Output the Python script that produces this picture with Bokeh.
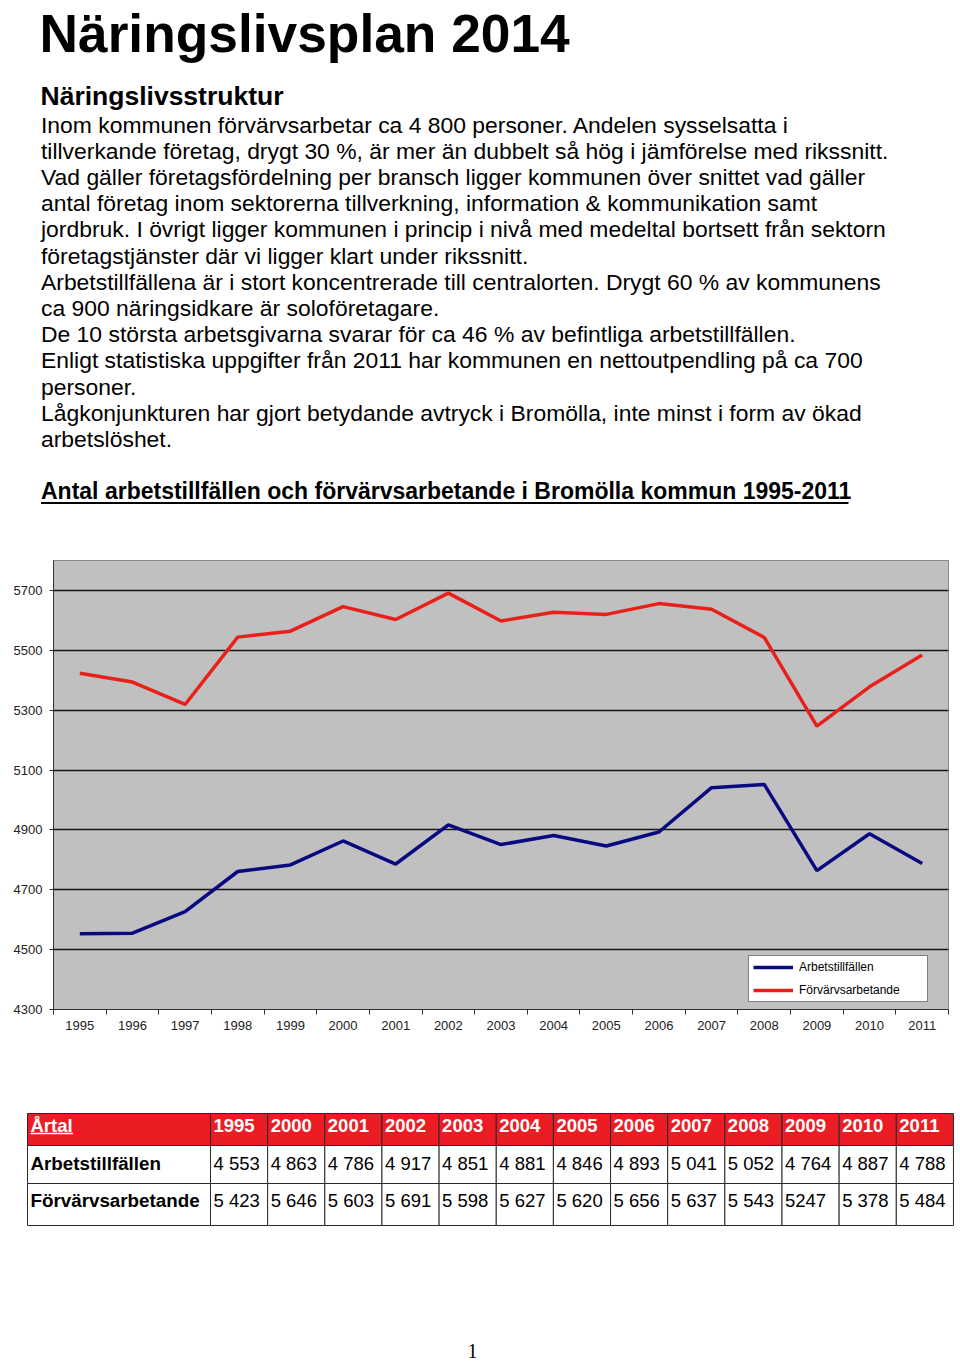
from bokeh.plotting import figure
from bokeh.layouts import column
from bokeh.models import Range1d, FixedTicker, Legend, LegendItem
from bokeh.core.properties import value
from bokeh.embed import file_html
from bokeh.resources import INLINE

# ---------------- data ----------------
years = list(range(1995, 2012))
arbetstillfallen = [4553, 4555, 4627, 4761, 4783, 4863, 4786, 4917, 4851,
                    4881, 4846, 4893, 5041, 5052, 4764, 4887, 4788]
forvarvsarbetande = [5423, 5394, 5319, 5544, 5564, 5646, 5603, 5691, 5598,
                     5627, 5620, 5656, 5637, 5543, 5247, 5378, 5484]
y_ticks = [4300, 4500, 4700, 4900, 5100, 5300, 5500, 5700]

table_header = "Årtal"
table_years = ["1995", "2000", "2001", "2002", "2003", "2004", "2005",
               "2006", "2007", "2008", "2009", "2010", "2011"]
table_row_labels = ["Arbetstillfällen", "Förvärvsarbetande"]
table_arb = ["4 553", "4 863", "4 786", "4 917", "4 851", "4 881", "4 846",
             "4 893", "5 041", "5 052", "4 764", "4 887", "4 788"]
table_forv = ["5 423", "5 646", "5 603", "5 691", "5 598", "5 627", "5 620",
              "5 656", "5 637", "5 543", "5247", "5 378", "5 484"]

page_title = "Näringslivsplan 2014"
heading = "Näringslivsstruktur"
body_lines = [
    "Inom kommunen förvärvsarbetar ca 4 800 personer. Andelen sysselsatta i",
    "tillverkande företag, drygt 30 %, är mer än dubbelt så hög i jämförelse med rikssnitt.",
    "Vad gäller företagsfördelning per bransch ligger kommunen över snittet vad gäller",
    "antal företag inom sektorerna tillverkning, information & kommunikation samt",
    "jordbruk. I övrigt ligger kommunen i princip i nivå med medeltal bortsett från sektorn",
    "företagstjänster där vi ligger klart under rikssnitt.",
    "Arbetstillfällena är i stort koncentrerade till centralorten. Drygt 60 % av kommunens",
    "ca 900 näringsidkare är soloföretagare.",
    "De 10 största arbetsgivarna svarar för ca 46 % av befintliga arbetstillfällen.",
    "Enligt statistiska uppgifter från 2011 har kommunen en nettoutpendling på ca 700",
    "personer.",
    "Lågkonjunkturen har gjort betydande avtryck i Bromölla, inte minst i form av ökad",
    "arbetslöshet.",
]
chart_title = "Antal arbetstillfällen och förvärvsarbetande i Bromölla kommun 1995-2011"
series_names = ["Arbetstillfällen", "Förvärvsarbetande"]
page_number = "1"

# ---------------- styling ----------------
W = 958
FONT = value("Liberation Sans")
BLUE = "#0A0A80"
RED = "#E8201C"
TABLE_RED = "#EC1C24"


def blank(h):
    f = figure(width=W, height=h, x_range=Range1d(0, W), y_range=Range1d(h, 0),
               output_backend="svg", toolbar_location=None, min_border=0,
               x_axis_location=None, y_axis_location=None, frame_align=False)
    f.xgrid.visible = False
    f.ygrid.visible = False
    f.outline_line_color = None
    f.background_fill_color = "white"
    f.border_fill_color = "white"
    return f


# ---------------- top text block ----------------
HA = 540
top = blank(HA)
top.text(x=[39], y=[33], text=[page_title], text_font=FONT, text_font_style="bold",
         text_font_size=value("53.3px"), text_baseline="alphabetic", text_color="black")
top.text(x=[40], y=[95], text=[heading], text_font=FONT, text_font_style="bold",
         text_font_size=value("26.5px"), text_baseline="alphabetic", text_color="black")
line_step = 26.2
top.text(x=[40.5] * len(body_lines), y=[124 + line_step * i for i in range(len(body_lines))],
         text=body_lines, text_font=FONT, text_font_size=value("22.9px"),
         text_baseline="alphabetic", text_color="black")
top.text(x=[40.5], y=[490.5], text=[chart_title], text_font=FONT, text_font_style="bold",
         text_font_size=value("23px"), text_baseline="alphabetic", text_color="black")
top.segment(x0=[40.5], y0=[502.5], x1=[848], y1=[502.5], line_color="black", line_width=2)

# ---------------- chart ----------------
HB = 510
p = figure(width=W, height=HB, x_range=Range1d(years[0] - 0.5, years[-1] + 0.5),
           y_range=Range1d(4300, 5800), output_backend="svg", toolbar_location=None,
           min_border_left=53, min_border_right=W - 948, min_border_top=20, min_border_bottom=41,
           frame_align=False)
p.background_fill_color = "#C0C0C0"
p.border_fill_color = "white"
p.outline_line_color = "#8A8A8A"
p.outline_line_width = 1

r1 = p.line(years, arbetstillfallen, line_color=BLUE, line_width=3.5)
r2 = p.line(years, forvarvsarbetande, line_color=RED, line_width=3.5)

p.xaxis.ticker = FixedTicker(ticks=years, minor_ticks=[y - 0.5 for y in years] + [years[-1] + 0.5])
p.xaxis.major_tick_out = 0
p.xaxis.major_tick_in = 0
p.xaxis.minor_tick_out = 5
p.xaxis.minor_tick_in = 0
p.xaxis.minor_tick_line_color = "#303030"
p.xaxis.major_label_standoff = 6
p.yaxis.ticker = FixedTicker(ticks=y_ticks)
p.yaxis.major_tick_out = 4
p.yaxis.major_tick_in = 0
p.yaxis.minor_tick_line_color = None
p.yaxis.major_label_standoff = 7
for ax in (p.xaxis, p.yaxis):
    ax.axis_line_color = "#303030"
    ax.major_tick_line_color = "#303030"
    ax.major_label_text_font = "Liberation Sans"
    ax.major_label_text_font_size = "13px"
    ax.major_label_text_color = "#222222"
p.xgrid.visible = False
p.ygrid.grid_line_color = "#151515"
p.ygrid.grid_line_width = 1.4

legend = Legend(items=[LegendItem(label=series_names[0], renderers=[r1]),
                       LegendItem(label=series_names[1], renderers=[r2])],
                location=(695, 7), padding=4, spacing=9, margin=0,
                glyph_width=40, glyph_height=14, label_height=14, label_width=124,
                label_standoff=6, border_line_color="black", border_line_width=1,
                background_fill_color="white", background_fill_alpha=1,
                label_text_font="Liberation Sans", label_text_font_size="12px",
                label_text_color="black")
p.add_layout(legend)

# ---------------- table ----------------
HC = 310
tb = blank(HC)
left, label_right, col_w = 27, 210, 57.15
row_edges = [63, 95, 133, 175]
n = len(table_years)
col_lefts = [left] + [label_right + col_w * i for i in range(n)]
col_rights = [label_right] + [label_right + col_w * (i + 1) for i in range(n)]
q_l, q_r, q_t, q_b, q_c = [], [], [], [], []
for ri in range(3):
    for ci in range(n + 1):
        q_l.append(col_lefts[ci]); q_r.append(col_rights[ci])
        q_t.append(row_edges[ri]); q_b.append(row_edges[ri + 1])
        q_c.append(TABLE_RED if ri == 0 else "white")
tb.quad(left=q_l, right=q_r, top=q_t, bottom=q_b, fill_color=q_c,
        line_color="#2A2A2A", line_width=1)

text_rows = [75, 113, 150]
pad = 3
tb.text(x=[col_lefts[0] + pad] + [c + pad for c in col_lefts[1:]], y=[text_rows[0]] * (n + 1),
        text=[table_header] + table_years, text_font=FONT, text_font_style="bold",
        text_font_size=value("18.5px"), text_baseline="alphabetic", text_color="white")
tb.segment(x0=[col_lefts[0] + pad], y0=[text_rows[0] + 8], x1=[col_lefts[0] + pad + 42.5],
           y1=[text_rows[0] + 8], line_color="white", line_width=1.6)
tb.text(x=[col_lefts[0] + pad] * 2, y=text_rows[1:], text=table_row_labels, text_font=FONT,
        text_font_style="bold", text_font_size=value("18.8px"), text_baseline="alphabetic",
        text_color="black")
tb.text(x=[c + pad for c in col_lefts[1:]] * 2, y=[text_rows[1]] * n + [text_rows[2]] * n,
        text=table_arb + table_forv, text_font=FONT, text_font_size=value("18.5px"),
        text_baseline="alphabetic", text_color="black")
tb.text(x=[472], y=[300], text=[page_number], text_font=value("Liberation Serif"),
        text_font_size=value("20px"), text_align="center", text_baseline="alphabetic",
        text_color="black")

layout = column(top, p, tb, spacing=0)
open("out.html", "w").write(file_html(layout, INLINE))
